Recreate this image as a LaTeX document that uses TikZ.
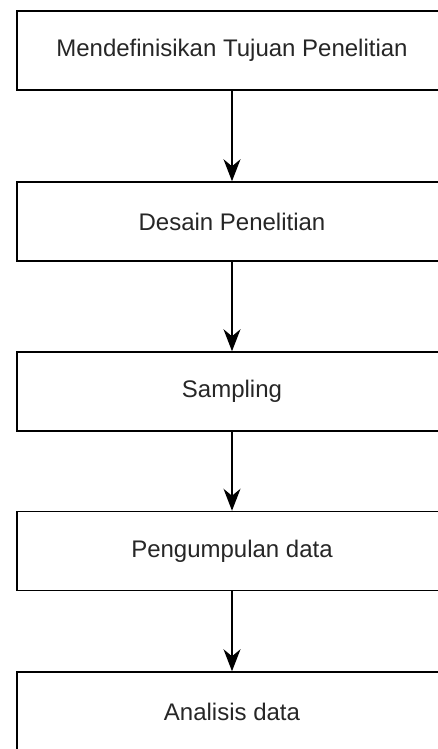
\documentclass[tikz,border=0pt]{standalone}
\usepackage{fontspec}
\setmainfont{Liberation Sans}
\usetikzlibrary{arrows.meta,positioning}

\tikzset{
	stepbox/.style={draw, line width=1.5pt, minimum width=430pt, minimum height=79pt,
		inner sep=0pt, font=\fontsize{24}{28}\selectfont, text=black!85},
	flowarrow/.style={line width=1.3pt, -{Stealth[length=22pt, width=17pt, inset=7pt]}}
}

\begin{document}
\begin{tikzpicture}[x=1pt, y=1pt]
		\useasboundingbox (0,0) rectangle (438,-749);
		\clip (0,0) rectangle (438,-749);
		% Steps of the research, top to bottom
		\node[stepbox] (tujuan) at (232,-50.5) {Mendefinisikan Tujuan Penelitian};
		\node[stepbox] (desain) at (232,-221.5) {Desain Penelitian};
		\node[stepbox] (sampling) at (232,-391.5) {Sampling};
		\node[stepbox] (kumpul) at (232,-551) {Pengumpulan data};
		\node[stepbox] (analisis) at (232,-711.5) {Analisis data};
		% Connect each step to the next one
		\foreach \a/\b in {tujuan/desain, desain/sampling, sampling/kumpul, kumpul/analisis} {
			\draw[flowarrow] (\a.south) -- (\b.north);
		}
\end{tikzpicture}
\end{document}
